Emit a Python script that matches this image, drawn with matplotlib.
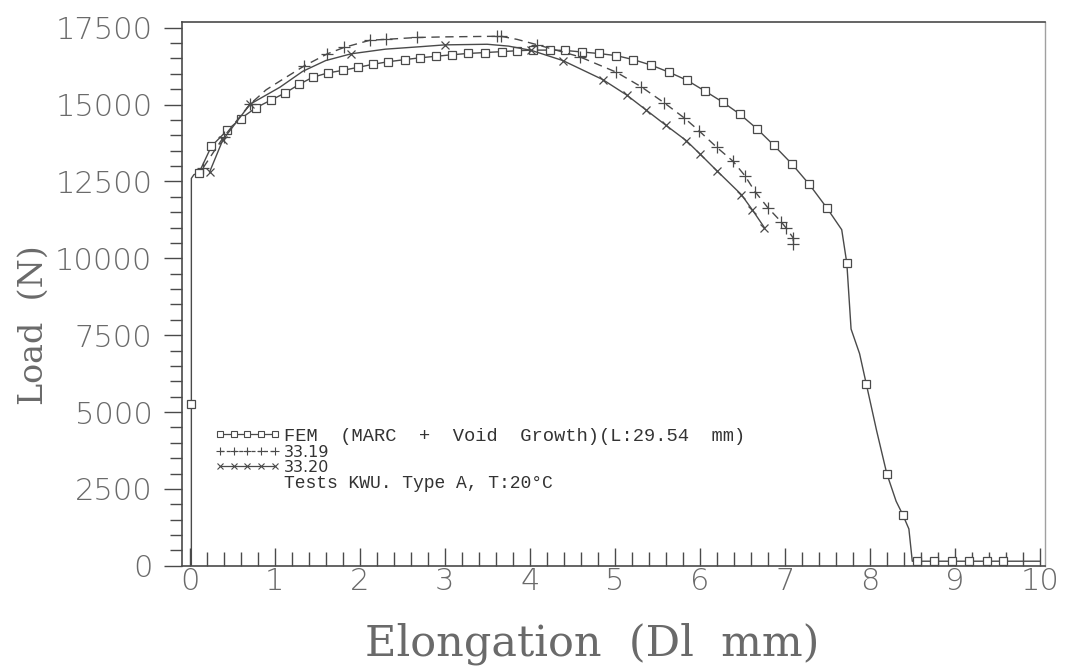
import matplotlib
matplotlib.use("Agg")
import matplotlib.pyplot as plt
from matplotlib.lines import Line2D
from matplotlib.ticker import MultipleLocator, FixedLocator

# FEM simulation (MARC + void growth), open squares
fem_x = [0.02, 0.02, 0.02, 0.05, 0.11, 0.255, 0.44, 0.60, 0.776, 0.96, 1.126, 1.29,
         1.45, 1.63, 1.80, 1.98, 2.16, 2.33, 2.53, 2.71, 2.90, 3.09, 3.27, 3.47,
         3.67, 3.85, 4.04, 4.24, 4.41, 4.61, 4.81, 5.02, 5.22, 5.43, 5.64, 5.85,
         6.06, 6.27, 6.47, 6.67, 6.87, 7.08, 7.29, 7.50, 7.67, 7.73, 7.78, 7.88,
         7.96, 8.08, 8.20, 8.31, 8.39, 8.46, 8.50, 8.55, 8.76, 8.97, 9.17, 9.38,
         9.57, 10.0]
fem_y = [0, 5250, 12600, 12720, 12780, 13640, 14160, 14540, 14890, 15150, 15380, 15660,
         15890, 16030, 16110, 16210, 16310, 16390, 16460, 16520, 16570, 16620, 16660, 16690,
         16720, 16750, 16770, 16770, 16760, 16710, 16660, 16590, 16460, 16280, 16050, 15790,
         15440, 15080, 14690, 14220, 13680, 13080, 12400, 11620, 10930, 9840, 7700, 6900,
         5900, 4400, 3000, 2100, 1650, 1200, 150, 150, 150, 150, 150, 150,
         150, 150]
fem_mark = [False, True, False, False] + [True] * 40 + [False, True, False, False,
            True, False, True, False, True, False, False, True, True, True, True, True,
            True, False]

# Test 33.19, dashed line with plus signs
t3319_x = [0.16, 0.40, 0.71, 0.90, 1.06, 1.35, 1.62, 1.82, 2.12, 2.31, 2.67, 3.00,
           3.62, 3.66, 3.85, 4.08, 4.59, 5.02, 5.31, 5.58, 5.82, 5.99, 6.20, 6.39,
           6.53, 6.65, 6.80, 6.96, 7.02, 7.10, 7.10]
t3319_y = [12950, 13950, 15010, 15480, 15760, 16260, 16650, 16860, 17090, 17120, 17180, 17200,
           17220, 17220, 17120, 16950, 16550, 16050, 15580, 15060, 14560, 14150, 13610, 13160,
           12690, 12170, 11650, 11180, 10970, 10660, 10450]
t3319_mark = [True, True, True, False, False, True, True, True, True, True, True, False,
              True, True, False, True, True, True, True, True, True, True, True, True,
              True, True, True, True, True, True, True]

# Test 33.20, solid line with crosses
t3320_x = [0.235, 0.39, 0.71, 1.06, 1.33, 1.60, 1.90, 2.30, 2.71, 3.00, 3.50, 3.75,
           4.02, 4.39, 4.86, 5.14, 5.37, 5.60, 5.84, 6.00, 6.20, 6.49, 6.62, 6.76]
t3320_y = [12810, 13850, 15010, 15560, 16080, 16430, 16650, 16800, 16880, 16940, 16960, 16900,
           16760, 16430, 15810, 15310, 14820, 14330, 13830, 13400, 12850, 12070, 11570, 11000]
t3320_mark = [True, True, True, False, False, False, True, False, False, True, False, False,
              True, True, True, True, True, True, True, True, True, True, True, True]

y_ticks = [0, 2500, 5000, 7500, 10000, 12500, 15000, 17500]
x_ticks = [0, 1, 2, 3, 4, 5, 6, 7, 8, 9, 10]

labels = ["FEM  (MARC  +  Void  Growth)(L:29.54  mm)", "33.19", "33.20",
          "Tests KWU. Type A, T:20\u00b0C"]

ink = "#4a4a4a"
label_ink = "#6a6a6a"

fig = plt.figure(figsize=(10.75, 6.72), dpi=100)
ax = fig.add_axes([0.169, 0.158, 0.803, 0.810])

ax.plot(fem_x, fem_y, color=ink, lw=1.0, marker="s", ms=6, mfc="white", mec=ink,
        mew=0.9, markevery=fem_mark)
ax.plot(t3319_x, t3319_y, color=ink, lw=1.0, ls=(0, (6, 4)), marker="+", ms=8,
        mew=0.9, markevery=t3319_mark)
ax.plot(t3320_x, t3320_y, color=ink, lw=1.0, marker="x", ms=6, mew=0.9,
        markevery=t3320_mark)

ax.set_xlim(-0.094, 10.06)
ax.set_ylim(0, 17700)

ax.yaxis.set_major_locator(FixedLocator(y_ticks))
ax.yaxis.set_minor_locator(MultipleLocator(500))
ax.xaxis.set_major_locator(FixedLocator(x_ticks))
ax.xaxis.set_minor_locator(MultipleLocator(0.2))
ax.set_yticklabels([str(v) for v in y_ticks])
ax.set_xticklabels([str(v) for v in x_ticks])
for lab in ax.get_xticklabels() + ax.get_yticklabels():
    lab.set_fontweight("light")

ax.tick_params(axis="y", which="major", direction="out", length=13, width=1.0,
               color=ink, labelsize=22, labelcolor=label_ink, pad=8)
ax.tick_params(axis="y", which="minor", direction="out", length=9, width=1.0, color=ink)
ax.tick_params(axis="x", which="major", direction="in", length=13, width=1.0,
               color=ink, labelsize=22, labelcolor=label_ink, pad=1)
ax.tick_params(axis="x", which="minor", direction="in", length=10, width=1.0, color=ink)

for side in ["left", "bottom", "top"]:
    ax.spines[side].set_color(ink)
    ax.spines[side].set_linewidth(1.2)
ax.spines["right"].set_color("#a0a0a0")
ax.spines["right"].set_linewidth(1.0)

ax.set_ylabel("Load  (N)", family="DejaVu Serif", fontsize=24, color=label_ink)
ax.yaxis.set_label_coords(-0.153, 0.443)
ax.set_xlabel("Elongation  (Dl  mm)", family="DejaVu Serif", fontsize=31, color=label_ink)
ax.xaxis.set_label_coords(0.475, -0.105)

handles = [
    Line2D([], [], color=ink, lw=0.9, marker="s", ms=4.5, mfc="white", mec=ink, mew=0.8),
    Line2D([], [], color=ink, lw=0.9, ls=(0, (3, 2)), marker="+", ms=6, mew=0.8),
    Line2D([], [], color=ink, lw=0.9, marker="x", ms=4.5, mew=0.8),
    Line2D([], [], ls="none"),
]
leg = ax.legend(handles, labels, loc="upper left", bbox_to_anchor=(0.038, 0.254),
                frameon=False, numpoints=5, handlelength=3.8, handletextpad=0.2,
                labelspacing=0.0, borderpad=0, borderaxespad=0, fontsize=12.5)
texts = leg.get_texts()
texts[0].set_family(["Liberation Mono", "DejaVu Sans Mono"])
texts[0].set_fontsize(13.5)
texts[1].set_family("DejaVu Sans")
texts[1].set_fontsize(11.5)
texts[2].set_family("DejaVu Sans")
texts[2].set_fontsize(11.5)
texts[3].set_family(["Liberation Mono", "DejaVu Sans Mono"])
texts[3].set_fontsize(13)
for t in texts:
    t.set_color("#333333")

fig.savefig("out.png", dpi=100, facecolor="white")
